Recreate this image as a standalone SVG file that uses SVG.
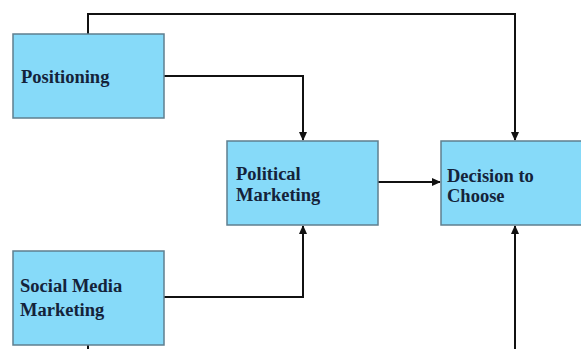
<svg xmlns="http://www.w3.org/2000/svg" width="581" height="349" viewBox="0 0 581 349">
<defs>
<style>
.box{fill:#86daf9;stroke:#5f7f8f;stroke-width:1.5}
.lbl{font-family:"Liberation Serif","Times New Roman",serif;font-weight:bold;font-size:18.5px;fill:#14233a}
.con{fill:none;stroke:#111;stroke-width:2}
</style>
<marker id="ah" viewBox="0 0 10 10" refX="9" refY="5" markerWidth="9" markerHeight="9" markerUnits="userSpaceOnUse" orient="auto"><path d="M0,0.5 L10,5 L0,9.5 z" fill="#111"/></marker>
</defs>
<rect width="581" height="349" fill="#fff"/>
<g id="connectors">
<path class="con" d="M88,34 V14 H515 V140" marker-end="url(#ah)"/>
<path class="con" d="M164,76 H303 V140" marker-end="url(#ah)"/>
<path class="con" d="M378,182 H440" marker-end="url(#ah)"/>
<path class="con" d="M164,297 H303 V226" marker-end="url(#ah)"/>
<path class="con" d="M515,349 V226" marker-end="url(#ah)"/>
<path class="con" d="M88,345 V349"/>
</g>
<g id="positioning">
<rect class="box" x="13" y="34" width="151" height="84"/>
<text class="lbl" x="21" y="83">Positioning</text>
</g>
<g id="political-marketing">
<rect class="box" x="227" y="141" width="151" height="84"/>
<text class="lbl" x="236" y="180">Political</text>
<text class="lbl" x="236" y="201">Marketing</text>
</g>
<g id="decision-to-choose">
<rect class="box" x="441" y="141" width="145" height="84"/>
<text class="lbl" x="447" y="182">Decision to</text>
<text class="lbl" x="447" y="202">Choose</text>
</g>
<g id="social-media-marketing">
<rect class="box" x="13" y="251" width="151" height="94"/>
<text class="lbl" x="20" y="292">Social Media</text>
<text class="lbl" x="20" y="316">Marketing</text>
</g>
</svg>
